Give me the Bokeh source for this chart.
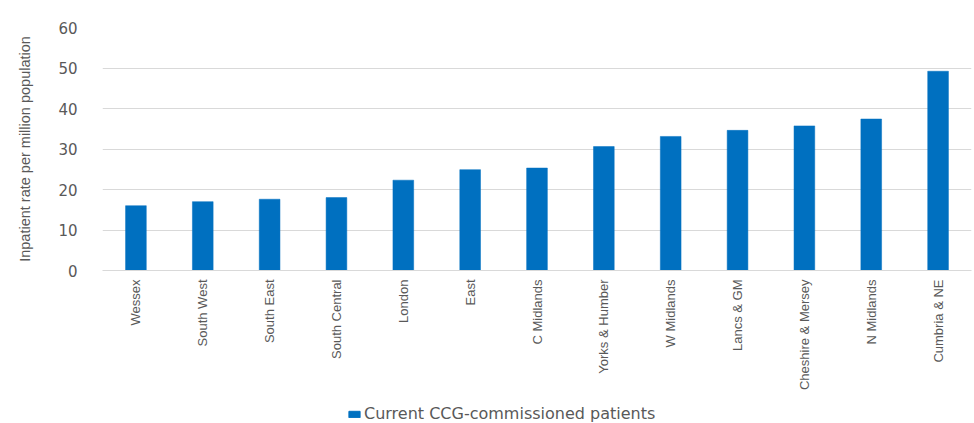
import math
from bokeh.plotting import figure
from bokeh.layouts import column
from bokeh.models import ColumnDataSource, FactorRange, Range1d, Legend, LegendItem, FixedTicker
from bokeh.embed import file_html
from bokeh.resources import INLINE

regions = ["Wessex", "South West", "South East", "South Central", "London", "East",
           "C Midlands", "Yorks & Humber", "W Midlands", "Lancs & GM",
           "Cheshire & Mersey", "N Midlands", "Cumbria & NE"]
rates = [16.0, 17.0, 17.6, 18.0, 22.3, 24.9, 25.3, 30.6, 33.1, 34.6, 35.7, 37.4, 49.2]
y_ticks = [0, 10, 20, 30, 40, 50, 60]
series_name = "Current CCG-commissioned patients"
y_label = "Inpatient rate per million population"
bar_color = "#0070C0"

source = ColumnDataSource(data=dict(region=regions, rate=rates))

p = figure(x_range=FactorRange(factors=regions, range_padding=0),
           y_range=Range1d(0, 60),
           width=974, height=400,
           output_backend="svg", toolbar_location=None,
           min_border_left=102, min_border_right=3, min_border_top=27,
           min_border_bottom=130)

bars = p.vbar(x="region", top="rate", width=0.31, source=source,
              fill_color=bar_color, line_color=bar_color, line_width=0.5)

p.outline_line_color = None
p.background_fill_color = "white"
p.border_fill_color = "white"

p.xgrid.grid_line_color = None
p.ygrid.grid_line_color = "#d9d9d9"
p.ygrid.grid_line_width = 1
p.yaxis.ticker = FixedTicker(ticks=y_ticks)

p.yaxis.axis_line_color = None
p.yaxis.major_tick_line_color = None
p.yaxis.minor_tick_line_color = None
p.yaxis.major_label_standoff = 19
p.yaxis.major_label_text_font = "DejaVu Sans"
p.yaxis.major_label_text_font_size = "15px"
p.yaxis.major_label_text_color = "#595959"
p.yaxis.axis_label = y_label
p.yaxis.axis_label_standoff = 22
p.yaxis.axis_label_text_font = "Liberation Sans"
p.yaxis.axis_label_text_font_style = "normal"
p.yaxis.axis_label_text_font_size = "14.5px"
p.yaxis.axis_label_text_color = "#595959"

p.xaxis.axis_label = None
p.xaxis.major_tick_out = 0
p.xaxis.major_tick_in = 0
p.xaxis.axis_line_color = "#d9d9d9"
p.xaxis.axis_line_width = 1
p.xaxis.major_tick_line_color = None
p.xaxis.minor_tick_line_color = None
p.xaxis.major_label_orientation = math.pi / 2
p.xaxis.major_label_standoff = 9
p.xaxis.major_label_text_font = "Liberation Sans"
p.xaxis.major_label_text_font_size = "13px"
p.xaxis.major_label_text_color = "#595959"

# Legend strip below the chart (its key glyph sits outside the strip's visible range)
lg = figure(width=974, height=23, x_range=Range1d(0, 1), y_range=Range1d(0, 1),
            x_axis_type=None, y_axis_type=None,
            output_backend="svg", toolbar_location=None, min_border=0)
lg.outline_line_color = None
lg.background_fill_color = "white"
lg.border_fill_color = "white"
key = lg.vbar(x=[-5], top=[-4], bottom=[-5], width=0.31,
              fill_color=bar_color, line_color=bar_color)

legend = Legend(items=[LegendItem(label=series_name, renderers=[key])],
                location=(245, 0), orientation="horizontal",
                border_line_color=None, background_fill_alpha=0,
                label_text_font="DejaVu Sans", label_text_font_size="16px",
                label_text_color="#595959", glyph_width=14, glyph_height=8,
                label_height=16, label_standoff=3, padding=0, margin=0)
lg.add_layout(legend, "center")

layout = column(p, lg, spacing=0)

open("out.html", "w").write(file_html(layout, INLINE))
